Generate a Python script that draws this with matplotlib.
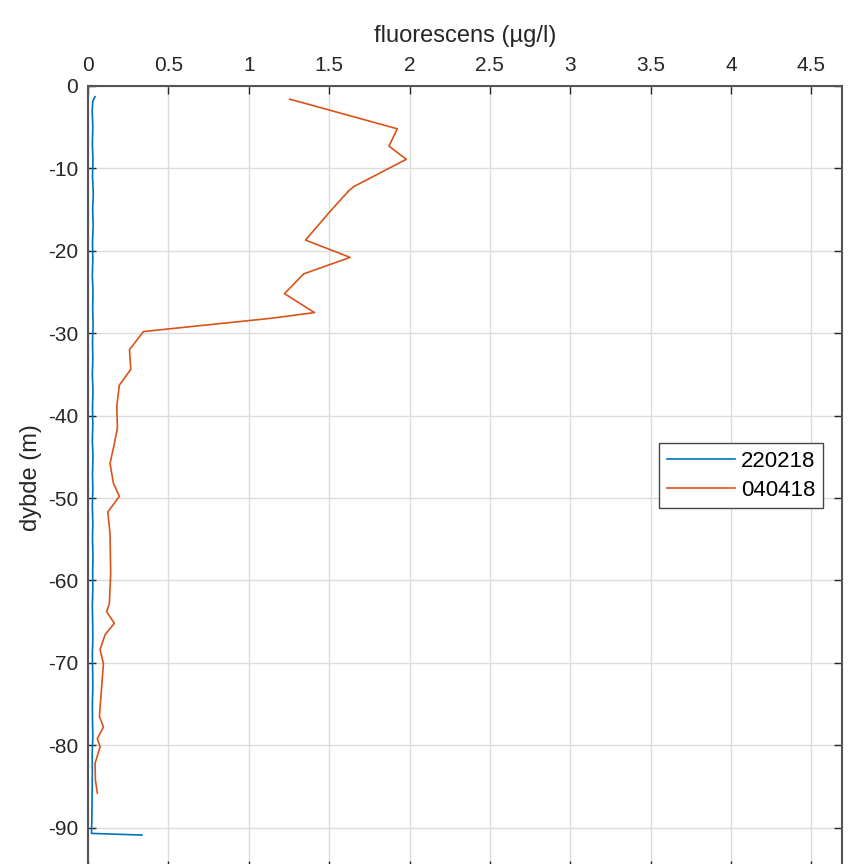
import matplotlib
matplotlib.use("Agg")
import matplotlib.pyplot as plt

plt.rcParams['font.family'] = ['Liberation Sans', 'DejaVu Sans']
plt.rcParams['axes.unicode_minus'] = False

# Fluorescence profile 22.02.18 (depth in m, fluorescence in ug/l)
depth_220218 = [-1.3, -1.8, -3.0, -5.0, -7.0, -9.0, -11.0, -13.0, -15.0, -17.0,
                -19.0, -21.0, -23.0, -25.0, -27.0, -29.0, -31.0, -33.0, -35.0,
                -37.0, -39.0, -41.0, -43.0, -45.0, -47.0, -49.0, -51.0, -53.0,
                -55.0, -57.0, -59.0, -61.0, -63.0, -65.0, -67.0, -69.0, -71.0,
                -73.0, -75.0, -77.0, -79.0, -81.0, -83.0, -85.0, -87.0, -89.0,
                -90.7, -90.9]
fluor_220218 = [0.044, 0.030, 0.026, 0.030, 0.027, 0.031, 0.028, 0.033, 0.029, 0.032,
                0.028, 0.030, 0.027, 0.031, 0.029, 0.032, 0.028, 0.030, 0.027,
                0.031, 0.028, 0.030, 0.027, 0.031, 0.028, 0.030, 0.027, 0.030,
                0.028, 0.031, 0.029, 0.030, 0.027, 0.029, 0.030, 0.027, 0.029,
                0.030, 0.027, 0.028, 0.030, 0.026, 0.027, 0.026, 0.025, 0.024,
                0.022, 0.335]

# Fluorescence profile 04.04.18
depth_040418 = [-1.6, -5.2, -7.3, -8.9, -12.2, -12.7, -15.4, -18.7, -20.8, -22.8,
                -25.2, -27.5, -28.2, -29.8, -32.0, -34.4, -36.3, -38.9, -41.5,
                -43.4, -45.8, -48.2, -49.8, -51.7, -54.3, -59.2, -62.8, -63.8,
                -65.2, -66.6, -68.4, -70.1, -72.9, -76.5, -77.8, -79.2, -80.2,
                -82.2, -84.2, -85.8]
fluor_040418 = [1.255, 1.924, 1.872, 1.980, 1.654, 1.623, 1.498, 1.353, 1.630, 1.342,
                1.222, 1.409, 1.135, 0.345, 0.258, 0.266, 0.195, 0.179, 0.183,
                0.164, 0.137, 0.158, 0.195, 0.123, 0.137, 0.141, 0.133, 0.116,
                0.164, 0.106, 0.075, 0.096, 0.085, 0.071, 0.096, 0.058, 0.075,
                0.044, 0.046, 0.058]

labels = ['220218', '040418']
x_ticks = [0, 0.5, 1, 1.5, 2, 2.5, 3, 3.5, 4, 4.5]
x_tick_labels = ['0', '0.5', '1', '1.5', '2', '2.5', '3', '3.5', '4', '4.5']
y_ticks = [0, -10, -20, -30, -40, -50, -60, -70, -80, -90]

fig = plt.figure(figsize=(8.48, 8.64), dpi=100)
ax = fig.add_axes([88 / 848, -0.0056, 754 / 848, 0.9061])

ax.plot(fluor_220218, depth_220218, color='#0072BD', lw=1.2, label=labels[0])
ax.plot(fluor_040418, depth_040418, color='#D95319', lw=1.2, label=labels[1])

ax.set_xlim(0, 4.69)
ax.set_ylim(-95, 0)
ax.set_xticks(x_ticks)
ax.set_xticklabels(x_tick_labels)
ax.set_yticks(y_ticks)

ax.xaxis.tick_top()
ax.xaxis.set_label_position('top')
ax.tick_params(axis='both', which='both', direction='in', length=6, width=1,
               top=True, bottom=True, left=True, right=True,
               labelsize=15, colors='#262626')
ax.tick_params(axis='x', labeltop=True, labelbottom=False, pad=8)
ax.tick_params(axis='y', pad=7)

ax.grid(True, color='#dcdcdc', lw=1)
ax.set_axisbelow(True)
for s in ax.spines.values():
    s.set_color('#555555')
    s.set_linewidth(1.5)

ax.set_xlabel('fluorescens (µg/l)', fontsize=17, color='#262626', labelpad=10)
ax.set_ylabel('dybde (m)', fontsize=17, color='#262626', labelpad=4)

leg = ax.legend(loc='upper left', bbox_to_anchor=(0.757, 0.544), borderaxespad=0,
                fancybox=False, edgecolor='#444444', fontsize=16, handlelength=3.1,
                handletextpad=0.25, borderpad=0.35, labelspacing=0.35,
                framealpha=1)
leg.get_frame().set_linewidth(1)

fig.savefig('out.png', dpi=100)
